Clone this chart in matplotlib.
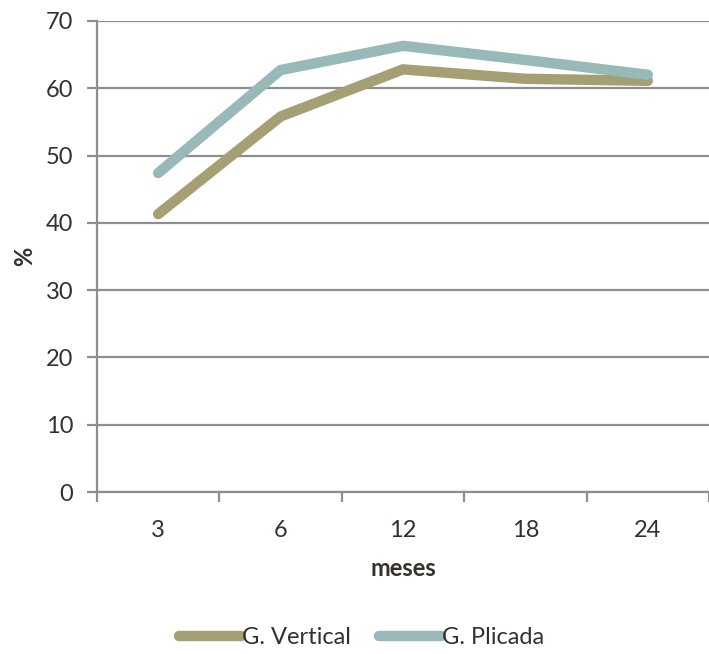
import numpy as np
import matplotlib.pyplot as plt
import matplotlib as mpl

mpl.rcParams['font.family'] = ['Lato', 'DejaVu Sans']

# Datos
meses = ['3', '6', '12', '18', '24']
g_vertical = [41.3, 55.8, 62.8, 61.4, 61.1]
g_plicada = [47.4, 62.7, 66.3, 64.2, 62.0]

c_vertical = '#A4A074'
c_plicada = '#97B9B7'
c_grid = '#8E8E8E'
c_text = '#35302B'
fs = 17

fig = plt.figure(figsize=(7.09, 6.54), dpi=100)
ax = fig.add_axes([0.1368, 0.2477, 0.8632, 0.7203])

x = np.arange(len(meses))
ax.plot(x, g_vertical, color=c_vertical, lw=7.5, solid_capstyle='round',
        solid_joinstyle='round', label='G. Vertical', zorder=3)
ax.plot(x, g_plicada, color=c_plicada, lw=7.5, solid_capstyle='round',
        solid_joinstyle='round', label='G. Plicada', zorder=4)

ax.set_xlim(-0.5, len(meses) - 0.5)
ax.set_ylim(0, 70)
ax.set_yticks(np.arange(0, 71, 10))
ax.yaxis.grid(True, color=c_grid, lw=1.6)
ax.set_axisbelow(True)

# ticks en los limites de cada categoria, etiquetas en el centro
ax.set_xticks(np.arange(-0.5, len(meses), 1.0))
ax.set_xticklabels([])
ax.set_xticks(x, minor=True)
ax.set_xticklabels(meses, minor=True)
ax.tick_params(axis='x', which='major', length=7, width=1.6, color=c_grid)
ax.tick_params(axis='x', which='minor', length=0, pad=20, labelsize=fs, labelcolor=c_text)
ax.tick_params(axis='y', length=7, width=1.6, color=c_grid, pad=10, labelsize=fs, labelcolor=c_text)

for s in ['top', 'right']:
    ax.spines[s].set_visible(False)
for s in ['left', 'bottom']:
    ax.spines[s].set_color(c_grid)
    ax.spines[s].set_linewidth(1.6)

ax.set_xlabel('meses', fontsize=fs, fontweight='bold', color=c_text, labelpad=12)
ax.set_ylabel('%', fontsize=fs, fontweight='bold', color=c_text, labelpad=7)

fig.legend(loc='center', bbox_to_anchor=(0.51, 0.025), ncol=2, frameon=False,
           fontsize=fs, handlelength=2.6, handletextpad=0.05, columnspacing=1.2,
           labelcolor=c_text)

fig.savefig('out.png', dpi=100)
